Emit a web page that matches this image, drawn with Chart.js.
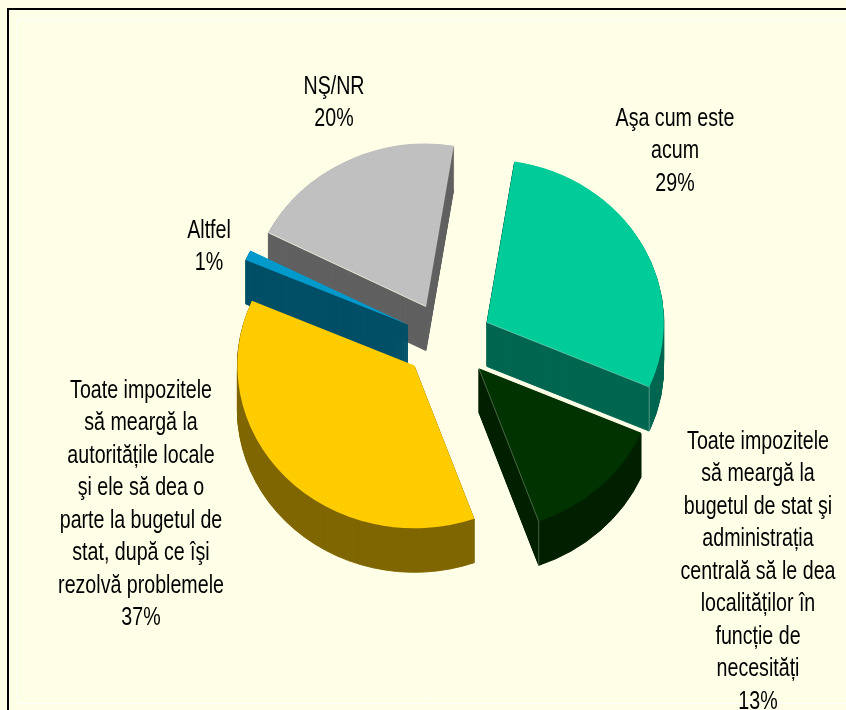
<!DOCTYPE html>
<html><head><meta charset="utf-8">
<style>html,body{margin:0;padding:0;background:#FFFFE8;overflow:hidden}canvas{display:block}</style>
<script src="https://cdn.jsdelivr.net/npm/chart.js@4"></script>
</head><body><div style="width:846px;height:710px"><canvas id="c" width="846" height="710"></canvas></div>
<script>
const categories = [
  ["Aşa cum este","acum"],
  ["Toate impozitele","să meargă la","bugetul de stat şi","administrația","centrală să le dea","localităților în","funcție de","necesități"],
  ["Toate impozitele","să meargă la","autoritățile locale","şi ele să dea o","parte la bugetul de","stat, după ce îşi","rezolvă problemele"],
  ["Altfel"],
  ["NŞ/NR"]
];
const values = [29, 13, 37, 1, 20];
const percentLabels = ["29%","13%","37%","1%","20%"];
const topColors = ["#00CC99","#003300","#FFCC00","#0099CC","#C0C0C0"];
const sideColors = ["#006650","#002000","#806600","#004F66","#606060"];
const labelCenters = [[675,119],[758,442],[141,391],[209,231],[334,87]];
const sliceNudge = [[0,0],[0,-1],[-5,-2],[-4,0],[-5,0]];
const sideOrder = [4,3,0,2,1];
const edgeLines = [[4,'startAngle',0.8,false],[1,'endAngle',0.3,true],[0,'endAngle',0.35,true],[4,'endAngle',0.2,true]];
const TILT = 0.92, DEPTH = 44, LINE = 32.5, EXPLODE = 42, SQUEEZE = 0.785;

function place(ctx, arcs, i){
  const el=arcs[i], mid=(el.startAngle+el.endAngle)/2;
  ctx.translate(sliceNudge[i][0], sliceNudge[i][1]/TILT);
  ctx.translate(Math.cos(mid)*EXPLODE, Math.sin(mid)*EXPLODE);
}
const pie3d = {
  id:'pie3d',
  beforeDraw(chart){
    const {ctx,width,height}=chart;
    ctx.save();
    ctx.fillStyle='#FFFFE8';ctx.fillRect(0,0,width,height);
    ctx.strokeStyle='#FFFFFF';ctx.lineWidth=1;
    ctx.beginPath();ctx.moveTo(width,19.5);ctx.lineTo(17.5,19.5);ctx.lineTo(17.5,703.5);ctx.lineTo(width,703.5);ctx.stroke();
    ctx.strokeStyle='#000000';ctx.lineWidth=2;
    ctx.beginPath();ctx.moveTo(width,9);ctx.lineTo(8,9);ctx.lineTo(8,height);ctx.stroke();
    ctx.restore();
  },
  beforeDatasetDraw(chart){
    const {ctx}=chart, arcs=chart.getDatasetMeta(0).data;
    const cx=arcs[0].x, cy=arcs[0].y;
    ctx.save();
    ctx.translate(cx,cy);ctx.scale(1,TILT);ctx.translate(-cx,-cy);
    for(const i of sideOrder){
      const el=arcs[i], base=el.options;
      el.options=Object.create(base,{
        backgroundColor:{value:sideColors[i]},
        borderColor:{value:sideColors[i]},
        borderWidth:{value:1}
      });
      for(let d=DEPTH;d>=1;d--){
        ctx.save();ctx.translate(0,d/TILT);place(ctx,arcs,i);el.draw(ctx);ctx.restore();
      }
      el.options=base;
    }
    for(const i of sideOrder){
      ctx.save();place(ctx,arcs,i);arcs[i].draw(ctx);ctx.restore();
    }
    // thin highlight along the visible slice edges
    for(const [i,angleKey,alpha,withDrop] of edgeLines){
      const el=arcs[i], a=el[angleKey];
      ctx.save();place(ctx,arcs,i);
      ctx.strokeStyle='rgba(255,255,235,'+alpha+')';ctx.lineWidth=1;
      const ex=el.x+Math.cos(a)*el.outerRadius, ey=el.y+Math.sin(a)*el.outerRadius;
      ctx.beginPath();ctx.moveTo(el.x,el.y);ctx.lineTo(ex,ey);
      if(withDrop){ctx.moveTo(el.x,el.y+0);ctx.moveTo(ex,ey);ctx.lineTo(ex,ey+DEPTH/TILT);}
      ctx.stroke();ctx.restore();
    }
    ctx.restore();
    return false;
  },
  afterDraw(chart){
    const {ctx}=chart;
    ctx.save();
    ctx.fillStyle='#000';ctx.textAlign='center';ctx.textBaseline='middle';
    ctx.font='25px "Liberation Sans",Arial,sans-serif';
    categories.forEach((lines,i)=>{
      lines.concat(percentLabels[i]).forEach((t,j)=>{
        ctx.save();
        ctx.translate(labelCenters[i][0],labelCenters[i][1]+j*LINE);
        ctx.scale(SQUEEZE,1);
        ctx.fillText(t,0,0);
        ctx.restore();
      });
    });
    ctx.restore();
  }
};

new Chart(document.getElementById('c').getContext('2d'),{
  type:'pie',
  data:{labels:categories.map(l=>l.join(' ')),datasets:[{
    data:values,backgroundColor:topColors,borderWidth:0,hoverOffset:0,radius:177,clip:false
  }]},
  options:{
    responsive:false,animation:false,rotation:9,
    layout:{padding:{left:54,top:0,right:0,bottom:28}},
    plugins:{legend:{display:false},tooltip:{enabled:false}},
    events:[]
  },
  plugins:[pie3d]
});
</script></body></html>
